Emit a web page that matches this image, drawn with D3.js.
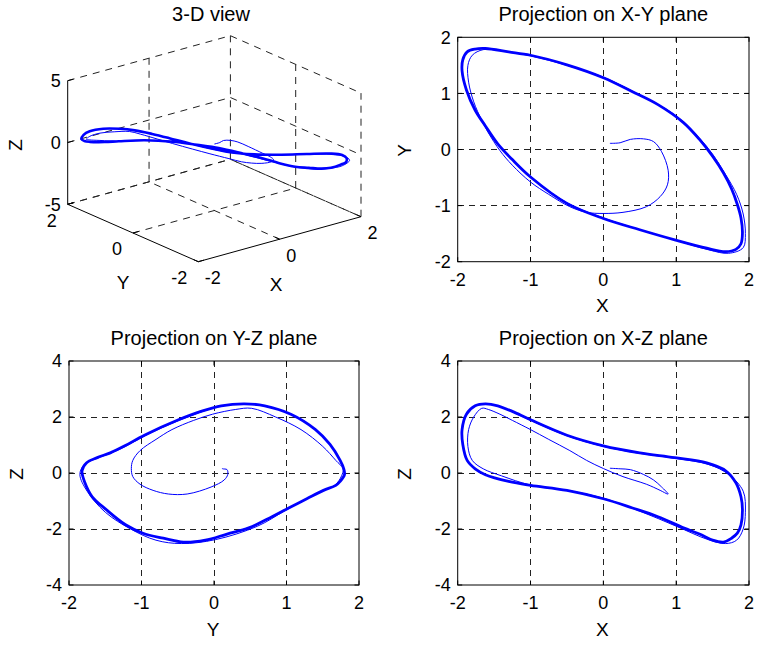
<!DOCTYPE html>
<html><head><meta charset="utf-8">
<script src="https://cdn.jsdelivr.net/npm/d3@7"></script>
<style>body{margin:0;background:#fff}svg{display:block}text{font-family:"Liberation Sans",Arial,Helvetica,sans-serif;fill:#000}</style>
</head><body>
<svg id="fig" width="763" height="645"></svg>
<script>
// ---------------- data ----------------
// transient part of the trajectory (thin line)
const transX = [0.09,0.23,0.37,0.55,0.69,0.80,0.89,0.88,0.78,0.59,0.27,0.00,-0.23,-0.46,-0.75,-1.00,-1.25,-1.42,-1.58,-1.67,-1.78,-1.85,-1.86,-1.80,-1.65,-1.40,-1.00,-0.50,0.00,0.50,1.00,1.44,1.68,1.83,1.92,1.95,1.92,1.72,1.45,1.00,0.50,0.00,-0.50,-1.00,-1.42,-1.60,-1.74];
const transY = [0.11,0.12,0.18,0.19,0.14,-0.04,-0.37,-0.63,-0.84,-1.02,-1.12,-1.14,-1.12,-1.02,-0.80,-0.58,-0.28,-0.02,0.30,0.52,0.85,1.20,1.50,1.68,1.78,1.76,1.67,1.50,1.29,0.97,0.60,0.02,-0.45,-0.80,-1.15,-1.50,-1.75,-1.85,-1.79,-1.62,-1.43,-1.22,-0.95,-0.48,0.06,0.38,0.64];
const transZ = [0.17,0.15,0.12,-0.05,-0.25,-0.50,-0.75,-0.75,-0.62,-0.40,-0.13,0.16,0.45,0.80,1.20,1.55,1.88,2.10,2.27,2.31,2.00,1.55,0.95,0.45,0.15,-0.10,-0.43,-0.62,-0.90,-1.36,-1.90,-2.38,-2.52,-2.40,-2.00,-1.40,-0.65,-0.05,0.30,0.52,0.70,0.95,1.33,1.88,2.37,2.46,2.42];
// limit cycle (thick line, closed)
const cycX = [-1.62,-1.30,-1.00,-0.50,0.00,0.40,0.75,1.10,1.32,1.50,1.65,1.76,1.84,1.89,1.91,1.89,1.82,1.68,1.42,0.98,0.50,0.00,-0.50,-1.00,-1.25,-1.45,-1.62,-1.76,-1.88,-1.94,-1.93,-1.87,-1.76];
const cycY = [1.80,1.74,1.68,1.51,1.28,1.03,0.80,0.48,0.18,-0.12,-0.42,-0.70,-0.98,-1.22,-1.49,-1.68,-1.78,-1.82,-1.76,-1.61,-1.43,-1.23,-0.96,-0.49,-0.18,0.10,0.42,0.70,1.06,1.40,1.60,1.74,1.79];
const cycZ = [-0.06,-0.30,-0.44,-0.62,-0.92,-1.25,-1.56,-1.96,-2.18,-2.40,-2.47,-2.33,-2.15,-1.85,-1.30,-0.85,-0.35,0.08,0.36,0.55,0.72,0.97,1.35,1.90,2.20,2.40,2.47,2.40,2.10,1.55,1.02,0.45,0.15];
// tick labels
const ticksXY = [-2,-1,0,1,2];
const ticksZ2 = [-4,-2,0,2,4];
const ticks3X = [-2,0,2];
const ticks3Y = [-2,0,2];
const ticks3Z = [-5,0,5];

// ---------------- drawing ----------------
const svg = d3.select('#fig');
svg.append('rect').attr('width',763).attr('height',645).attr('fill','#fff');
const BLUE = '#0000ff';
const FS = 18, TFS = 20, LFS = 19;
const trans = transX.map((x,i)=>({x, y:transY[i], z:transZ[i]}));
const cyc = cycX.map((x,i)=>({x, y:cycY[i], z:cycZ[i]}));
const lab = t=>t<0?'-'+Math.abs(t):String(t);

function panel2D(box, hKey, vKey, hTicks, vTicks, title, hLab, vLab){
  const sx = d3.scaleLinear().domain([hTicks[0], hTicks[hTicks.length-1]]).range([box.l, box.r]);
  const sy = d3.scaleLinear().domain([vTicks[0], vTicks[vTicks.length-1]]).range([box.b, box.t]);
  const g = svg.append('g');
  // grid
  hTicks.slice(1,-1).forEach(t=>g.append('line').attr('x1',sx(t)).attr('x2',sx(t)).attr('y1',box.t).attr('y2',box.b)
     .attr('stroke','#222').attr('stroke-width',1).attr('stroke-dasharray','6,5').attr('shape-rendering','crispEdges'));
  vTicks.slice(1,-1).forEach(t=>g.append('line').attr('y1',sy(t)).attr('y2',sy(t)).attr('x1',box.l).attr('x2',box.r)
     .attr('stroke','#222').attr('stroke-width',1).attr('stroke-dasharray','6,5').attr('shape-rendering','crispEdges'));
  // data
  const line = d3.line().x(d=>sx(d[hKey])).y(d=>sy(d[vKey])).curve(d3.curveCatmullRom.alpha(0.5));
  const lineC = d3.line().x(d=>sx(d[hKey])).y(d=>sy(d[vKey])).curve(d3.curveCatmullRomClosed.alpha(0.5));
  g.append('path').attr('d',lineC(cyc)).attr('fill','none').attr('stroke',BLUE).attr('stroke-width',2.8);
  g.append('path').attr('d',line(trans)).attr('fill','none').attr('stroke',BLUE).attr('stroke-width',1);
  // box
  g.append('rect').attr('x',box.l).attr('y',box.t).attr('width',box.r-box.l).attr('height',box.b-box.t)
   .attr('fill','none').attr('stroke','#000').attr('stroke-width',1);
  // ticks (inward, both sides)
  const tl = 4.5;
  hTicks.forEach(t=>{
    g.append('line').attr('x1',sx(t)).attr('x2',sx(t)).attr('y1',box.b).attr('y2',box.b-tl).attr('stroke','#000');
    g.append('line').attr('x1',sx(t)).attr('x2',sx(t)).attr('y1',box.t).attr('y2',box.t+tl).attr('stroke','#000');
    g.append('text').attr('x',sx(t)).attr('y',box.b+17.6).attr('dy','0.35em').attr('text-anchor','middle')
      .attr('font-size',FS).text(lab(t));
  });
  vTicks.forEach(t=>{
    g.append('line').attr('y1',sy(t)).attr('y2',sy(t)).attr('x1',box.l).attr('x2',box.l+tl).attr('stroke','#000');
    g.append('line').attr('y1',sy(t)).attr('y2',sy(t)).attr('x1',box.r).attr('x2',box.r-tl).attr('stroke','#000');
    g.append('text').attr('x',box.l-7).attr('y',sy(t)).attr('dy','0.35em').attr('text-anchor','end')
      .attr('font-size',FS).text(lab(t));
  });
  const cx = (box.l+box.r)/2;
  g.append('text').attr('x',cx).attr('y',box.t-23).attr('dy','0.35em').attr('text-anchor','middle').attr('font-size',TFS).text(title);
  g.append('text').attr('x',cx-1).attr('y',box.b+44).attr('dy','0.35em').attr('text-anchor','middle').attr('font-size',LFS).text(hLab);
  g.append('text').attr('transform',`translate(${box.l-53},${(box.t+box.b)/2+1}) rotate(-90)`).attr('dy','0.35em')
   .attr('text-anchor','middle').attr('font-size',LFS).text(vLab);
}

panel2D({l:457.7,r:749,t:37.3,b:261.7}, 'x','y', ticksXY, ticksXY, 'Projection on X-Y plane','X','Y');
panel2D({l:69,r:359,t:361,b:585}, 'y','z', ticksXY, ticksZ2, 'Projection on Y-Z plane','Y','Z');
panel2D({l:457.7,r:749,t:361,b:585}, 'x','z', ticksXY, ticksZ2, 'Projection on X-Z plane','X','Z');

// ---------------- 3-D view ----------------
(function(){
  const s3x = d3.scaleLinear().domain([ticks3X[0], ticks3X[2]]).range([0,1]);
  const s3y = d3.scaleLinear().domain([ticks3Y[0], ticks3Y[2]]).range([0,1]);
  const s3z = d3.scaleLinear().domain([ticks3Z[0], ticks3Z[2]]).range([0,1]);
  const O = [198.3,261.7], EX=[162.7,-45], EY=[-130.6,-57.4], EZ=[0,-123.6];
  const P = (x,y,z)=>{const a=s3x(x),b=s3y(y),c=s3z(z);return [O[0]+a*EX[0]+b*EY[0]+c*EZ[0], O[1]+a*EX[1]+b*EY[1]+c*EZ[1]];};
  const g = svg.append('g');
  const xm=ticks3X[0], xM=ticks3X[2], ym=ticks3Y[0], yM=ticks3Y[2], zm=ticks3Z[0], zM=ticks3Z[2];
  const seg = (a,b,dash)=>{const l=g.append('line').attr('x1',a[0]).attr('y1',a[1]).attr('x2',b[0]).attr('y2',b[1]).attr('stroke',dash?'#222':'#000').attr('stroke-width',1);
     if(dash) l.attr('stroke-dasharray','7,6');};
  // grid on back walls and floor
  ticks3Z.forEach(z=>{ seg(P(xm,yM,z),P(xM,yM,z),true); seg(P(xM,yM,z),P(xM,ym,z),true); });
  ticks3X.slice(1).forEach(x=>{ seg(P(x,yM,zm),P(x,yM,zM),true); seg(P(x,ym,zm),P(x,yM,zm),true); });
  ticks3Y.slice(0,2).forEach(y=>{ seg(P(xM,y,zm),P(xM,y,zM),true); });
  ticks3Y.slice(1).forEach(y=>{ seg(P(xm,y,zm),P(xM,y,zm),true); });
  // data
  const line = d3.line().x(d=>P(d.x,d.y,d.z)[0]).y(d=>P(d.x,d.y,d.z)[1]).curve(d3.curveCatmullRom.alpha(0.5));
  const lineC = d3.line().x(d=>P(d.x,d.y,d.z)[0]).y(d=>P(d.x,d.y,d.z)[1]).curve(d3.curveCatmullRomClosed.alpha(0.5));
  g.append('path').attr('d',lineC(cyc)).attr('fill','none').attr('stroke',BLUE).attr('stroke-width',2.6);
  g.append('path').attr('d',line(trans)).attr('fill','none').attr('stroke',BLUE).attr('stroke-width',1);
  // axes (solid)
  seg(P(xm,yM,zm),P(xm,yM,zM),false);
  seg(P(xm,yM,zm),P(xm,ym,zm),false);
  seg(P(xm,ym,zm),P(xM,ym,zm),false);
  // ticks
  const tk=0.035;
  ticks3Z.forEach(z=>seg(P(xm,yM,z),P(xm+tk*(xM-xm),yM,z),false));
  ticks3Y.forEach(y=>seg(P(xm,y,zm),P(xm+tk*(xM-xm),y,zm),false));
  ticks3X.forEach(x=>seg(P(x,ym,zm),P(x,ym+tk*(yM-ym),zm),false));
  ticks3Z.forEach(z=>{const p=P(xm,yM,z); g.append('text').attr('x',p[0]-7).attr('y',p[1]).attr('dy','0.35em').attr('text-anchor','end').attr('font-size',FS).text(lab(z));});
  ticks3Y.forEach(y=>{const p=P(xm,y,zm); g.append('text').attr('x',p[0]-11).attr('y',p[1]+16).attr('dy','0.35em').attr('text-anchor','end').attr('font-size',FS).text(lab(y));});
  ticks3X.forEach(x=>{const p=P(x,ym,zm); g.append('text').attr('x',p[0]+6.5).attr('y',p[1]+16).attr('dy','0.35em').attr('text-anchor','start').attr('font-size',FS).text(lab(x));});
  g.append('text').attr('x',211).attr('y',14).attr('dy','0.35em').attr('text-anchor','middle').attr('font-size',TFS).text('3-D view');
  g.append('text').attr('x',123).attr('y',282).attr('dy','0.35em').attr('text-anchor','middle').attr('font-size',LFS).text('Y');
  g.append('text').attr('x',276).attr('y',284).attr('dy','0.35em').attr('text-anchor','middle').attr('font-size',LFS).text('X');
  g.append('text').attr('transform','translate(15,145) rotate(-90)').attr('dy','0.35em').attr('text-anchor','middle').attr('font-size',LFS).text('Z');
})();
</script>
</body></html>
